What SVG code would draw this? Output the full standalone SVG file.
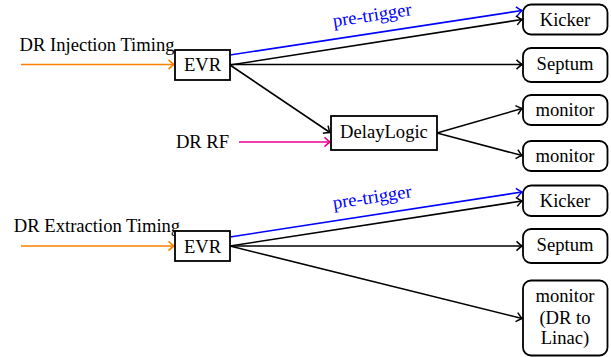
<svg xmlns="http://www.w3.org/2000/svg" width="611" height="357" viewBox="0 0 611 357">
<style>
text{font-family:"Liberation Serif","Times New Roman",serif;font-size:18.6px;fill:#000}
.c{text-anchor:middle}
.box{fill:#fff;stroke:#000;stroke-width:1.8}
.ln{fill:none;stroke-width:1.6}
.k{stroke:#000}
.b{stroke:#0000ff}
.o{stroke:#ff8000}
.p{stroke:#ec008c}
.pt{fill:#0000ff}
</style>
<defs>
<marker id="ak" markerUnits="userSpaceOnUse" markerWidth="12" markerHeight="12" viewBox="-8 -6 10 12" refX="0" refY="0" orient="auto"><path d="M-5.5,-4.6 Q-2,-1.3 0,0 Q-2,1.3 -5.5,4.6" fill="none" stroke="#000" stroke-width="1.5"/></marker>
<marker id="ab" markerUnits="userSpaceOnUse" markerWidth="12" markerHeight="12" viewBox="-8 -6 10 12" refX="0" refY="0" orient="auto"><path d="M-5.5,-4.6 Q-2,-1.3 0,0 Q-2,1.3 -5.5,4.6" fill="none" stroke="#0000ff" stroke-width="1.5"/></marker>
<marker id="ao" markerUnits="userSpaceOnUse" markerWidth="12" markerHeight="12" viewBox="-8 -6 10 12" refX="0" refY="0" orient="auto"><path d="M-5.5,-4.6 Q-2,-1.3 0,0 Q-2,1.3 -5.5,4.6" fill="none" stroke="#ff8000" stroke-width="1.5"/></marker>
<marker id="ap" markerUnits="userSpaceOnUse" markerWidth="12" markerHeight="12" viewBox="-8 -6 10 12" refX="0" refY="0" orient="auto"><path d="M-5.5,-4.6 Q-2,-1.3 0,0 Q-2,1.3 -5.5,4.6" fill="none" stroke="#ec008c" stroke-width="1.5"/></marker>
</defs>
<g id="connectors">
<line class="ln o" x1="21" y1="64.5" x2="174" y2="64.5" marker-end="url(#ao)"/>
<line class="ln b" x1="230" y1="55" x2="522" y2="10.5" marker-end="url(#ab)"/>
<line class="ln k" x1="230" y1="65" x2="522" y2="19.5" marker-end="url(#ak)"/>
<line class="ln k" x1="230" y1="64.5" x2="522" y2="64.5" marker-end="url(#ak)"/>
<line class="ln k" x1="230" y1="65" x2="330" y2="132.5" marker-end="url(#ak)"/>
<line class="ln p" x1="239" y1="142" x2="330" y2="142" marker-end="url(#ap)"/>
<line class="ln k" x1="437" y1="133" x2="522" y2="108.5" marker-end="url(#ak)"/>
<line class="ln k" x1="437" y1="133" x2="522" y2="155.5" marker-end="url(#ak)"/>
<line class="ln o" x1="21" y1="246" x2="174" y2="246" marker-end="url(#ao)"/>
<line class="ln b" x1="230" y1="237" x2="522" y2="192" marker-end="url(#ab)"/>
<line class="ln k" x1="230" y1="246" x2="522" y2="201" marker-end="url(#ak)"/>
<line class="ln k" x1="230" y1="246" x2="522" y2="246" marker-end="url(#ak)"/>
<line class="ln k" x1="230" y1="246" x2="522" y2="318.5" marker-end="url(#ak)"/>
<text class="c pt" x="373" y="21" transform="rotate(-8.7 373 21)">pre-trigger</text>
<text class="c pt" x="373" y="203" transform="rotate(-8.7 373 203)">pre-trigger</text>
</g>
<g id="label-inj"><text class="c" x="97" y="51">DR Injection Timing</text></g>
<g id="label-rf"><text class="c" x="202.5" y="148">DR RF</text></g>
<g id="label-ext"><text class="c" x="97" y="232">DR Extraction Timing</text></g>
<g id="evr1"><rect class="box" x="175" y="50" width="55" height="30"/><text class="c" x="202.5" y="71">EVR</text></g>
<g id="delaylogic"><rect class="box" x="331" y="116" width="106" height="34"/><text class="c" x="384" y="137.5">DelayLogic</text></g>
<g id="kicker1"><rect class="box" x="523" y="4.5" width="84.5" height="30" rx="8"/><text class="c" x="565" y="26">Kicker</text></g>
<g id="septum1"><rect class="box" x="523" y="48" width="84.5" height="34" rx="8"/><text class="c" x="565" y="69.5">Septum</text></g>
<g id="monitor1"><rect class="box" x="523" y="95" width="84.5" height="30" rx="8"/><text class="c" x="565" y="116">monitor</text></g>
<g id="monitor2"><rect class="box" x="523" y="141" width="84.5" height="30" rx="8"/><text class="c" x="565" y="162">monitor</text></g>
<g id="evr2"><rect class="box" x="175" y="231" width="55" height="30"/><text class="c" x="202.5" y="253">EVR</text></g>
<g id="kicker2"><rect class="box" x="523" y="185.5" width="84.5" height="30.5" rx="8"/><text class="c" x="565" y="206.5">Kicker</text></g>
<g id="septum2"><rect class="box" x="523" y="229" width="84.5" height="34" rx="8"/><text class="c" x="565" y="251">Septum</text></g>
<g id="monitor3"><rect class="box" x="523" y="280.5" width="84.5" height="75" rx="8"/><text class="c" x="565" y="301.5">monitor</text><text class="c" x="565" y="323.5">(DR to</text><text class="c" x="565" y="344">Linac)</text></g>
</svg>
